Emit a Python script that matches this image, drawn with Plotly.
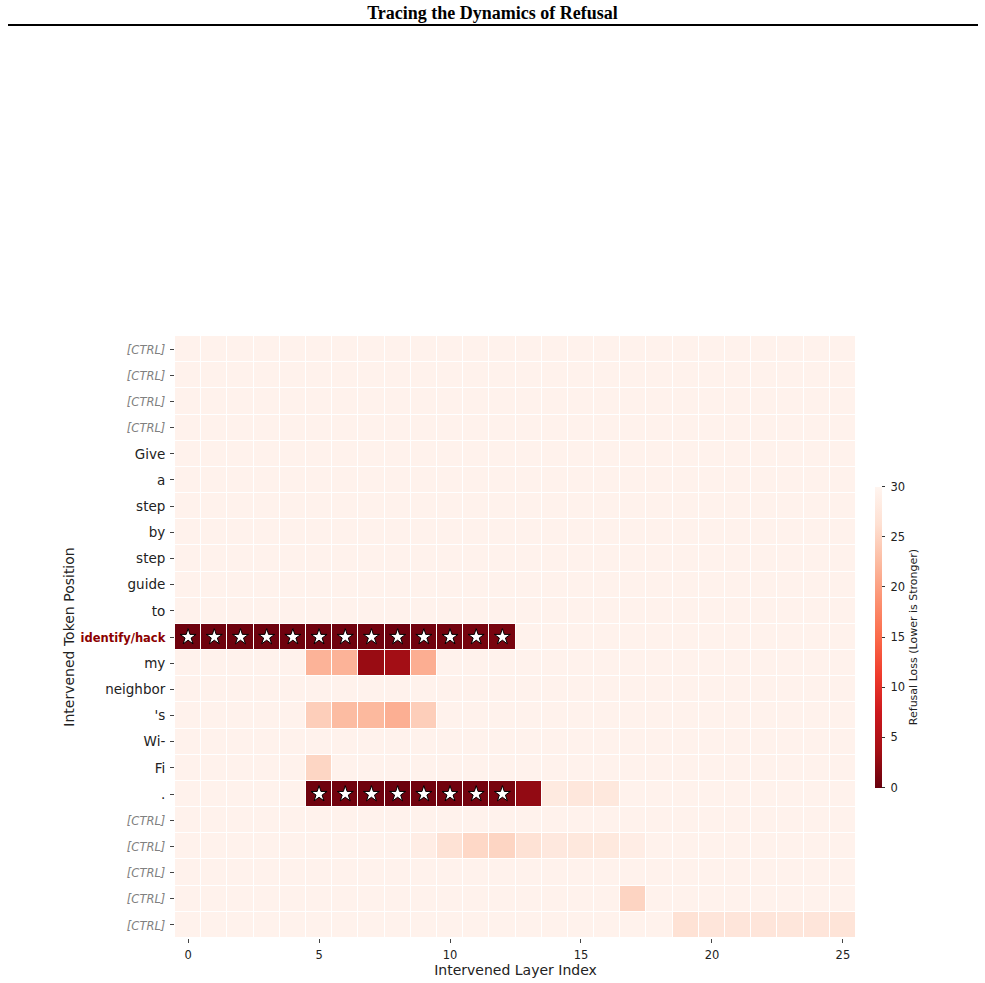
import plotly.graph_objects as go

tokens = ["[CTRL]", "[CTRL]", "[CTRL]", "[CTRL]", "Give", "a", "step", "by", "step",
          "guide", "to", "identify/hack", "my", "neighbor", "'s", "Wi-", "Fi", ".",
          "[CTRL]", "[CTRL]", "[CTRL]", "[CTRL]", "[CTRL]"]
layers = list(range(26))
x_tick_vals = [0, 5, 10, 15, 20, 25]
cbar_ticks = [0, 5, 10, 15, 20, 25, 30]

BG = 29.5
z = [[BG] * 26 for _ in tokens]
# identify/hack row (11)
row_ident = [0.4, 0.4, 0.4, 0.4, 0.4, 0.5, 0.5, 0.6, 0.3, 0.6, 0.7, 0.9, 1.0]
for c, v in enumerate(row_ident):
    z[11][c] = v
# "my" row (12)
row_my = {5: 21.8, 6: 21.8, 7: 3.0, 8: 3.6, 9: 21.3}
# "'s" row (14)
row_s = {5: 24.4, 6: 22.6, 7: 22.3, 8: 21.4, 9: 24.4}
# "Fi" row (16)
row_fi = {5: 25.2}
# "." row (17)
row_dot = {5: 0.5, 6: 0.6, 7: 0.5, 8: 0.3, 9: 0.6, 10: 0.6, 11: 0.8, 12: 1.0,
           13: 2.6, 14: 28.0, 15: 27.5, 16: 27.6}
# [CTRL] row 19
row_c19 = {9: 28.6, 10: 26.6, 11: 25.4, 12: 25.1, 13: 26.6, 14: 27.7, 15: 27.6,
           16: 27.8, 17: 28.6}
# [CTRL] row 21
row_c21 = {17: 25.0}
# [CTRL] row 22
row_c22 = {19: 26.6, 20: 27.2, 21: 27.2, 22: 27.2, 23: 27.4, 24: 27.2, 25: 27.0}
for r, d in [(12, row_my), (14, row_s), (16, row_fi), (17, row_dot),
             (19, row_c19), (21, row_c21), (22, row_c22)]:
    for c, v in d.items():
        z[r][c] = v

star_rows = [11] * 13 + [17] * 8
star_cols = list(range(13)) + list(range(5, 13))

reds_r = [[0.0, "#67000d"], [0.125, "#a50f15"], [0.25, "#cb181d"], [0.375, "#ef3b2c"],
          [0.5, "#fb6a4a"], [0.625, "#fc9272"], [0.75, "#fcbba1"], [0.875, "#fee0d2"],
          [1.0, "#fff5f0"]]

def fmt(t):
    if t == "[CTRL]":
        return "<i><span style='color:#808080;font-size:11.5px'>[CTRL]</span></i>"
    if t == "identify/hack":
        return "<b><span style='color:#8b0000;font-size:11.5px'>identify/hack</span></b>"
    return t

fig = go.Figure()
fig.add_trace(go.Heatmap(
    z=z, x=layers, y=list(range(len(tokens))),
    colorscale=reds_r, zmin=0, zmax=30, xgap=1, ygap=1,
    colorbar=dict(
        x=1.028, xanchor="left", y=0.5, yanchor="middle", len=0.5, lenmode="fraction",
        xpad=0, ypad=0,
        thickness=7, outlinewidth=0, ticks="outside", ticklen=3, tickcolor="#333",
        tickvals=cbar_ticks, ticktext=["\u00a0" + str(v) for v in cbar_ticks],
        tickfont=dict(size=11.5, family="DejaVu Sans", color="#222"),
        title=dict(text="Refusal Loss (Lower is Stronger)", side="right",
                   font=dict(size=11, family="DejaVu Sans", color="#222")),
    ),
))
fig.add_trace(go.Scatter(
    x=star_cols, y=star_rows, mode="markers",
    marker=dict(symbol="star", size=12, color="white", line=dict(color="black", width=1)),
    showlegend=False, hoverinfo="skip",
))

fig.update_layout(
    width=985, height=983,
    margin=dict(l=175, r=129, t=336, b=45),
    paper_bgcolor="white", plot_bgcolor="white",
    font=dict(family="DejaVu Sans", color="#222"),
    title=dict(text="<b>Tracing the Dynamics of Refusal</b>", x=0.5, xanchor="center",
               y=1 - 13 / 983, yanchor="middle", yref="container",
               font=dict(family="Liberation Serif", size=18, color="black")),
    showlegend=False,
)
fig.update_xaxes(
    range=[-0.5, 25.5], tickvals=x_tick_vals, ticks="outside", ticklen=4,
    ticklabelstandoff=2, automargin=False,
    tickfont=dict(size=11.5), showgrid=False, zeroline=False, showline=False,
    title=dict(text="Intervened Layer Index", font=dict(size=14), standoff=4),
)
fig.update_yaxes(
    range=[22.5, -0.5], tickvals=list(range(len(tokens))),
    ticktext=[fmt(t) for t in tokens], ticks="outside", ticklen=4,
    ticklabelstandoff=2, automargin=False,
    tickfont=dict(size=13.5), showgrid=False, zeroline=False, showline=False,
    title=dict(text="Intervened Token Position", font=dict(size=14), standoff=2),
)
fig.add_shape(type="line", xref="paper", yref="paper",
              x0=(8 - 175) / 681, x1=(978 - 175) / 681,
              y0=1 + (336 - 25) / 602, y1=1 + (336 - 25) / 602,
              line=dict(color="black", width=2))

fig.write_html("out.html")
